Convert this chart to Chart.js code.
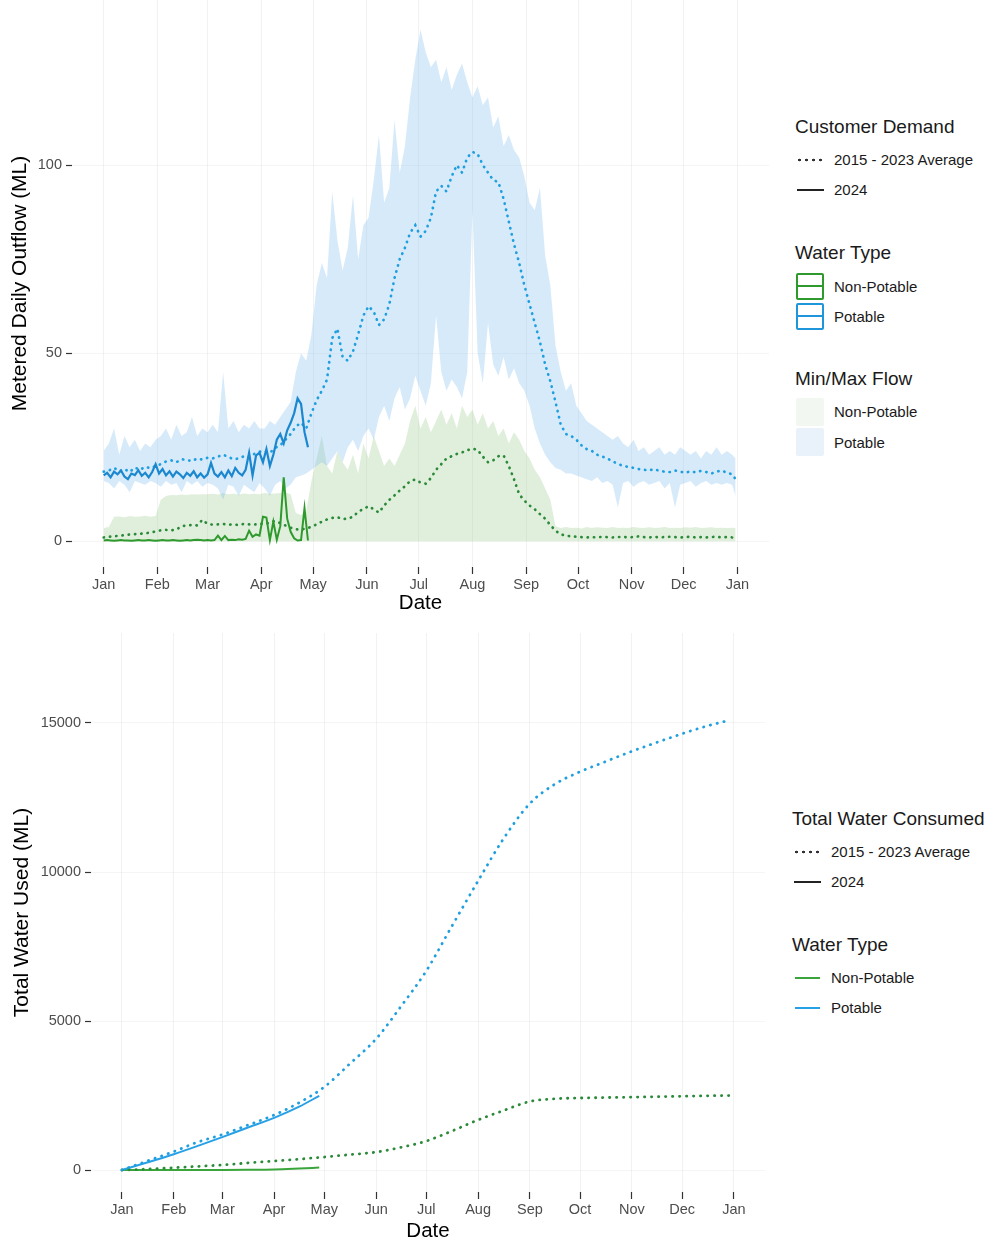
<!DOCTYPE html>
<html>
<head>
<meta charset="utf-8">
<script src="https://cdn.jsdelivr.net/npm/chart.js"></script>
<style>
  body { margin: 0; background: #fff; font-family: "Liberation Sans", Arial, sans-serif; }
  #wrap { position: relative; width: 984px; height: 1247px; overflow: hidden; }
  canvas { position: absolute; left: 0; }
  .lg { position: absolute; white-space: nowrap; color: #1a1a1a; }
  .lt { font-size: 19px; line-height: 22px; }
  .li { font-size: 15px; line-height: 18px; }
  .key { position: absolute; }
  .dots { position: absolute; width: 28px; height: 4px;
    background: radial-gradient(circle, #333 1.2px, rgba(0,0,0,0) 1.6px) repeat-x; background-size: 7px 4px; }
  .box { position: absolute; width: 24px; height: 23px; border-radius: 2px; }
  .box div { position: absolute; left: 0; right: 0; top: 10px; height: 2px; }
</style>
</head>
<body>
<div id="wrap">
  <canvas id="flowChart" width="780" height="620" style="top:0"></canvas>
  <canvas id="totalChart" width="780" height="627" style="top:620px"></canvas>

  <!-- top legend -->
  <div class="lg lt" style="left:795px;top:116px">Customer Demand</div>
  <div class="dots" style="left:796px;top:158px"></div>
  <div class="lg li" style="left:834px;top:151px">2015 - 2023 Average</div>
  <div class="key" style="left:797px;top:189px;width:27px;border-top:2px solid #222"></div>
  <div class="lg li" style="left:834px;top:181px">2024</div>

  <div class="lg lt" style="left:795px;top:242px">Water Type</div>
  <div class="box" style="left:796px;top:273px;border:2px solid #2e9a2e"><div style="background:#2e9a2e"></div></div>
  <div class="lg li" style="left:834px;top:278px">Non-Potable</div>
  <div class="box" style="left:796px;top:303px;border:2px solid #1f95dc"><div style="background:#1f95dc"></div></div>
  <div class="lg li" style="left:834px;top:308px">Potable</div>

  <div class="lg lt" style="left:795px;top:368px">Min/Max Flow</div>
  <div class="box" style="left:796px;top:398px;width:28px;height:28px;background:#f3f7f1"></div>
  <div class="lg li" style="left:834px;top:403px">Non-Potable</div>
  <div class="box" style="left:796px;top:428px;width:28px;height:28px;background:#e9f2fb"></div>
  <div class="lg li" style="left:834px;top:434px">Potable</div>

  <!-- bottom legend -->
  <div class="lg lt" style="left:792px;top:808px">Total Water Consumed</div>
  <div class="dots" style="left:793px;top:850px"></div>
  <div class="lg li" style="left:831px;top:843px">2015 - 2023 Average</div>
  <div class="key" style="left:794px;top:881px;width:27px;border-top:2px solid #222"></div>
  <div class="lg li" style="left:831px;top:873px">2024</div>

  <div class="lg lt" style="left:792px;top:934px">Water Type</div>
  <div class="key" style="left:795px;top:977px;width:25px;border-top:2px solid #3aa53a"></div>
  <div class="lg li" style="left:831px;top:969px">Non-Potable</div>
  <div class="key" style="left:795px;top:1007px;width:25px;border-top:2px solid #27a0e6"></div>
  <div class="lg li" style="left:831px;top:999px">Potable</div>
</div>

<script>
// month ticks (day of year, 2024)
const monthDays = [0, 31, 60, 91, 121, 152, 182, 213, 244, 274, 305, 335, 366]
const monthNames = ['Jan', 'Feb', 'Mar', 'Apr', 'May', 'Jun', 'Jul', 'Aug', 'Sep', 'Oct', 'Nov', 'Dec', 'Jan']
const flowTicks = [0, 50, 100]
const totalTicks = [0, 5000, 10000, 15000]

// daily outflow, one value every 3 days (last = day 365)
const potMax = [
  24, 26, 30, 23, 28, 25, 27, 24, 26, 25,
  27, 28, 30, 27, 31, 28, 29, 33, 28, 30,
  29, 31, 29, 45, 30, 32, 29, 31, 30, 32,
  30, 30, 32, 31, 33, 35, 37, 45, 50, 48,
  55, 68, 74, 70, 93, 80, 72, 78, 92, 75,
  84, 86, 96, 108, 90, 94, 112, 98, 105, 118,
  128, 136, 130, 126, 128, 122, 126, 120, 124, 127,
  122, 118, 121, 116, 118, 110, 113, 105, 108, 104,
  102, 97, 90, 88, 94, 76, 68, 52, 45, 40,
  42, 36, 34, 32, 31, 30, 29, 28, 27, 28,
  26, 25, 27, 24, 25, 23, 24, 25, 23, 24,
  23, 25, 24, 23, 24, 22, 24, 23, 25, 23,
  24, 23, 22
]
const potMin = [
  16, 15.5, 14, 16, 15, 13, 16, 15.5, 15, 16,
  15.5, 14.5, 16, 15, 15.5, 13, 16, 15, 16, 14.5,
  15.5, 15, 14, 11, 15, 14.5, 12, 15, 14, 13,
  15.5, 14, 12, 15, 16, 14, 15, 17, 17.5, 18,
  19, 20, 21, 20, 22, 24, 21, 25, 27, 24,
  28, 30, 27, 33, 36, 32, 38, 41, 35, 38,
  44, 40, 36, 42, 60, 45, 40, 43, 41, 38,
  45, 88, 50, 42, 58, 47, 44, 49, 43, 46,
  42, 40, 36, 30, 26, 23, 21, 19.5, 19, 18,
  18, 17.5, 17, 16.5, 16, 17, 15.5, 16, 15, 9,
  15.5, 16, 14.5, 15.5, 16, 15, 15.5, 16, 14, 15.5,
  9, 15, 15.5, 16, 14.5, 15.5, 16, 15, 15.5, 15,
  15.5, 15, 12
]
const potAvg = [
  18.5, 18.8, 19.5, 18.6, 19.2, 18.4, 19.6, 19.0, 19.8, 19.4,
  20.0, 20.5, 21.2, 21.5, 21.0, 21.8, 21.6, 21.3, 22.0, 21.7,
  22.2, 22.0, 22.5, 23.0, 22.4, 21.8, 22.0, 22.6, 22.3, 23.2,
  23.8, 24.0, 23.5, 24.8, 25.5, 27.0, 28.5, 30.5, 31.5, 30.0,
  34.0, 37.5, 40.0, 43.0, 54.0, 56.5, 49.0, 48.0, 50.5, 55.0,
  60.0, 62.5, 61.0, 57.5, 59.0, 63.0, 70.0, 75.0, 78.0, 82.0,
  84.0, 81.0, 82.5, 86.0, 93.0, 94.5, 93.0, 97.0, 100.0, 98.0,
  102.0, 103.5, 103.0, 100.0, 98.0, 96.0, 95.5, 91.0, 85.0, 79.0,
  74.0, 68.0, 63.0, 58.0, 53.0, 47.0, 42.5, 37.0, 31.0, 28.5,
  28.0, 27.0, 25.5, 24.5, 24.0, 23.0, 22.5, 22.0, 21.2, 20.6,
  20.0, 19.8, 19.5, 19.2, 19.0, 18.8, 19.2, 18.7, 18.5, 18.4,
  18.8, 18.5, 18.2, 18.6, 18.3, 18.7, 18.4, 18.0, 18.5, 18.8,
  18.2, 17.8, 16.5
]
const npMax = [
  3.5, 3.8, 6.5, 6.6, 6.4, 6.7, 6.5, 6.6, 6.8, 6.5,
  6.7, 11.0, 12.0, 12.3, 12.2, 12.4, 12.3, 12.5, 12.4, 12.5,
  12.5, 12.6, 12.4, 12.8, 12.5, 12.6, 12.4, 12.7, 12.5, 12.6,
  12.5, 12.8, 12.6, 12.7, 12.8, 13.0, 12.5, 7.5, 7.0, 8.0,
  16, 22, 28, 20, 18, 24, 21, 19, 23, 18,
  26, 22, 28, 24, 20, 22, 20, 23, 26, 32,
  36, 30, 33, 29, 32, 35, 31, 34, 30, 36,
  33, 35, 31, 34, 30, 32, 28, 30, 26, 29,
  27, 24, 22, 19, 17, 14, 11, 4, 3.5, 3.8,
  3.5, 3.6, 3.4, 3.8, 3.5, 3.7, 3.6, 3.5, 3.8, 3.5,
  3.6, 3.5, 3.8, 3.6, 3.5, 3.7, 3.5, 3.6, 3.8, 3.5,
  3.6, 3.5, 3.7, 3.6, 3.8, 3.5, 3.6, 3.7, 3.5, 3.6,
  3.5, 3.6, 3.5
]
const npAvg = [
  1.0, 1.2, 1.3, 1.5, 1.6, 1.8, 1.9, 2.0, 2.1, 2.3,
  2.6, 2.9, 3.0, 2.9, 3.1, 4.0, 4.2, 4.3, 4.2, 5.7,
  4.6, 4.4, 4.5, 4.6, 4.4, 4.5, 4.3, 4.6, 4.5, 4.4,
  4.7, 4.5, 5.0, 5.4, 4.8, 4.2, 3.6, 3.2, 3.1, 3.4,
  3.8, 4.5, 5.2, 5.8, 6.2, 6.4, 5.9, 6.0, 6.5, 7.8,
  8.6, 9.3, 8.5, 7.6, 9.5, 11.0, 12.2, 13.5, 14.6, 16.0,
  16.4, 15.6, 15.3, 16.8, 19.0, 20.5, 22.0, 22.6, 23.2, 23.6,
  24.2, 24.6, 24.3, 22.5, 21.0, 21.5, 22.6, 22.8, 20.0, 16.5,
  12.5, 10.8, 9.5, 8.5, 7.2, 6.0, 4.3, 2.8, 1.8, 1.5,
  1.3, 1.2, 1.1, 1.0, 1.1, 1.0, 1.2, 1.1, 1.0, 1.1,
  1.2, 1.0, 1.1, 1.3, 1.1, 1.0, 1.2, 1.0, 1.1, 1.2,
  1.1, 1.0, 1.1, 1.2, 1.0, 1.1, 1.0, 1.1, 1.2, 1.0,
  1.1, 1.0, 1.1
]

// 2024 outflow, one value every 2 days (Jan 1 - Apr 28)
const pot2024 = [
  17.5, 18.2, 17.0, 18.5, 17.8, 18.8, 17.2, 16.5, 18.0, 17.6,
  18.9, 17.4, 18.2, 17.0, 18.4, 20.5, 18.0, 19.2, 17.5, 18.6,
  17.2, 18.5, 17.8, 16.8, 18.2, 17.4, 18.6, 17.0, 18.0, 16.9,
  17.8, 20.8, 18.0, 17.2, 18.4, 17.0, 18.8, 17.3, 19.5, 18.2,
  17.5, 19.0, 23.5, 17.5, 22.8, 23.5, 21.0, 24.5, 20.0, 23.0,
  27.0, 28.5, 26.0, 29.5, 31.5, 34.0, 38.0, 36.5, 29.0, 25.0
]
const np2024 = [
  0.2, 0.3, 0.2, 0.1, 0.2, 0.3, 0.2, 0.2, 0.1, 0.2,
  0.3, 0.2, 0.2, 0.3, 0.2, 0.1, 0.2, 0.3, 0.2, 0.2,
  0.3, 0.2, 0.1, 0.2, 0.3, 0.2, 0.3, 0.4, 0.3, 0.2,
  0.3, 0.2, 0.3, 1.5, 0.3, 1.4, 0.3, 0.4, 0.3, 0.5,
  0.4, 0.6, 2.8, 1.2, 1.8, 1.5, 6.5, 6.3, 0.3, 5.2,
  0.4, 4.0, 17.0, 6.0, 2.5, 0.8, 0.2, 0.3, 8.8, 0.2
]

// cumulative totals
const cumDays = [0, 15, 31, 45, 60, 75, 91, 106, 121, 136, 152, 167, 182, 197, 213, 228, 244, 259, 274, 289, 305, 320, 335, 350, 364]
const potCumAvg = [0, 300, 620, 930, 1190, 1500, 1845, 2260, 2785, 3550, 4400, 5500, 6680, 8150, 9700, 11100, 12300, 12950, 13365, 13700, 14050, 14350, 14640, 14900, 15100]
const npCumAvg = [0, 30, 77, 120, 170, 235, 300, 365, 435, 515, 600, 760, 970, 1300, 1680, 1990, 2300, 2390, 2415, 2430, 2445, 2460, 2475, 2490, 2500]
const cum2024Days = [0, 15, 31, 45, 60, 75, 91, 106, 118]
const potCum2024 = [0, 250, 530, 800, 1105, 1420, 1750, 2125, 2490]
const npCum2024 = [0, 1, 2, 3, 4, 8, 18, 50, 80]

const bandDays = potMax.map((v, i) => Math.min(i * 3, 365))
const days2024 = pot2024.map((v, i) => i * 2)

function pts(days, vals) {
  return vals.map((v, i) => ({ x: days[i], y: v }))
}

Chart.defaults.font.family = '"Liberation Sans", Arial, sans-serif'
Chart.defaults.animation = false

function xAxis(min, max, h, pad) {
  return {
    type: 'linear', min: min, max: max,
    afterBuildTicks: s => { s.ticks = monthDays.map(v => ({ value: v })) },
    afterFit: s => { s.height = h; s.paddingLeft = 0; s.paddingRight = 0 },
    ticks: { autoSkip: false, maxRotation: 0, minRotation: 0, padding: 2, color: '#4d4d4d',
      font: { size: 14.5 }, callback: (v, i) => monthNames[i] },
    grid: { color: 'rgba(0,0,0,0.05)', tickColor: '#333', tickLength: 7, tickWidth: 1.2 },
    border: { display: false },
    title: { display: true, text: 'Date', color: '#000', font: { size: 20.5 }, padding: { top: 0, bottom: pad } }
  }
}

function yAxis(min, max, ticks, w, title, pad) {
  return {
    min: min, max: max,
    afterBuildTicks: s => { s.ticks = ticks.map(v => ({ value: v })) },
    afterFit: s => { s.width = w; s.paddingTop = 0; s.paddingBottom = 0 },
    ticks: { padding: 4, color: '#4d4d4d', font: { size: 14.5 }, callback: v => String(v) },
    grid: { color: 'rgba(0,0,0,0.04)', tickColor: '#333', tickLength: 6, tickWidth: 1.2 },
    border: { display: false },
    title: { display: true, text: title, color: '#000', font: { size: 21 }, padding: { top: pad, bottom: 0 } }
  }
}

const dotted = { borderDash: [0.3, 6], borderCapStyle: 'round', borderWidth: 2.7 }

new Chart(document.getElementById('flowChart'), {
  type: 'line',
  data: {
    datasets: [
      Object.assign({ data: pts(bandDays, potAvg), borderColor: '#1f9fdf', order: 1 }, dotted),
      Object.assign({ data: pts(bandDays, npAvg), borderColor: '#2b8a3a', order: 1 }, dotted),
      { data: pts(days2024, pot2024), borderColor: '#1b87cf', borderWidth: 2.2, order: 0 },
      { data: pts(days2024, np2024), borderColor: '#2e9a2e', borderWidth: 2, order: 0 },
      { data: pts(bandDays, potMin), borderWidth: 0, borderColor: 'rgba(0,0,0,0)', order: 4 },
      { data: pts(bandDays, potMax), borderWidth: 0, borderColor: 'rgba(0,0,0,0)', order: 4,
        fill: '-1', backgroundColor: 'rgba(120,185,240,0.3)' },
      { data: pts(bandDays, npMax), borderWidth: 0, borderColor: 'rgba(0,0,0,0)', order: 5,
        fill: 'origin', backgroundColor: 'rgba(130,190,110,0.25)' }
    ]
  },
  options: {
    responsive: false,
    elements: { point: { radius: 0 }, line: { tension: 0 } },
    layout: { padding: { left: 0, right: 11, top: 0, bottom: 0 } },
    plugins: { legend: { display: false }, tooltip: { enabled: false } },
    scales: {
      x: xAxis(-18.3, 384.3, 53, 4.5),
      y: yAxis(-6.85, 143.9, flowTicks, 72, 'Metered Daily Outflow (ML)', 8)
    }
  }
})

new Chart(document.getElementById('totalChart'), {
  type: 'line',
  data: {
    datasets: [
      Object.assign({ data: pts(cumDays, potCumAvg), borderColor: '#1f9fdf' }, dotted, { borderDash: [0.3, 6.7], borderWidth: 2.8 }),
      Object.assign({ data: pts(cumDays, npCumAvg), borderColor: '#2b8a3a' }, dotted, { borderDash: [0.3, 6.7], borderWidth: 2.8 }),
      { data: pts(cum2024Days, potCum2024), borderColor: '#27a0e6', borderWidth: 2 },
      { data: pts(cum2024Days, npCum2024), borderColor: '#3aa53a', borderWidth: 2 }
    ]
  },
  options: {
    responsive: false,
    elements: { point: { radius: 0 }, line: { cubicInterpolationMode: 'monotone' } },
    layout: { padding: { left: 0, right: 15, top: 13, bottom: 0 } },
    plugins: { legend: { display: false }, tooltip: { enabled: false } },
    scales: {
      x: xAxis(-18.5, 384.6, 55, 3.5),
      y: yAxis(-738, 18020, totalTicks, 91, 'Total Water Used (ML)', 9.5)
    }
  }
})
</script>
</body>
</html>
